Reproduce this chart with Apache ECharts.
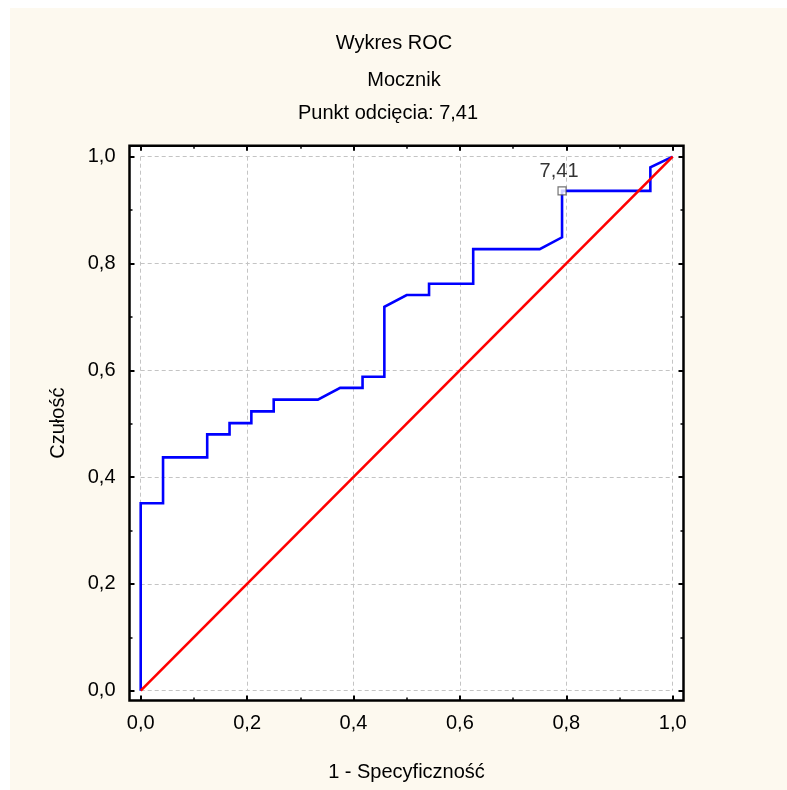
<!DOCTYPE html>
<html>
<head>
<meta charset="utf-8">
<script src="https://cdn.jsdelivr.net/npm/echarts@6/dist/echarts.min.js"></script>
<style>
  html, body { margin: 0; padding: 0; background: #ffffff; }
  #chart { width: 787px; height: 790px; }
</style>
</head>
<body>
<div id="chart"></div>
<script>
// ROC curve for "Mocznik" with the selected cut-off point
const chartTitle = 'Wykres ROC';
const variableName = 'Mocznik';
const cutoffLabel = '7,41';

// 1 - specificity (x) and sensitivity (y) along the stepped ROC curve
const fpr = [0, 0, 0.042, 0.042, 0.125, 0.125, 0.167, 0.167, 0.208, 0.208, 0.25, 0.25, 0.333, 0.375, 0.417, 0.417, 0.458, 0.458, 0.5, 0.542, 0.542, 0.625, 0.625, 0.75, 0.792, 0.792, 0.958, 0.958, 1];
const tpr = [0, 0.351, 0.351, 0.437, 0.437, 0.48, 0.48, 0.501, 0.501, 0.523, 0.523, 0.545, 0.545, 0.567, 0.567, 0.588, 0.588, 0.719, 0.741, 0.741, 0.762, 0.762, 0.827, 0.827, 0.849, 0.936, 0.936, 0.98, 1];

// cut-off point on the curve
const cutX = [0.792];
const cutY = [0.936];

// chance diagonal
const refX = [0, 1];
const refY = [0, 1];

// axis tick values (labelled) and the unlabelled ticks between them
const majorTicks = [0, 0.2, 0.4, 0.6, 0.8, 1.0];
const minorTicks = [0.1, 0.3, 0.5, 0.7, 0.9];

const FONT = 'Liberation Sans, Arial, sans-serif';
const FS = 20;
const fmt = v => v.toFixed(1).replace('.', ',');

const rocData = fpr.map((x, i) => [x, tpr[i]]);
const refData = refX.map((x, i) => [x, refY[i]]);
const cutData = cutX.map((x, i) => [x, cutY[i]]);

// plot area (values 0..1) and the framed box around it, in pixels
const plot = { left: 140.7, top: 156.7, width: 532, height: 534 };
const frame = { left: 129.5, top: 145.8, width: 554, height: 554.7 };
// value range covered by the frame, so that 0..1 lines up with the plot area
const fxMin = -(plot.left - frame.left) / plot.width;
const fxMax = 1 + (frame.left + frame.width - plot.left - plot.width) / plot.width;
const fyMin = -(frame.top + frame.height - plot.top - plot.height) / plot.height;
const fyMax = 1 + (plot.top - frame.top) / plot.height;

const labelStyle = { fontFamily: FONT, fontSize: FS, color: '#000' };
const gridLine = { show: true, lineStyle: { color: '#c4c4c4', width: 1, type: [4, 3] } };

// one frame axis: ticks pointing inward at the given values, sitting on the frame edge
function frameAxis(dim, position, values, len, width, withLabels, extra) {
  const ax = {
    type: 'value', gridIndex: 1, position: position,
    min: dim === 'x' ? fxMin : fyMin,
    max: dim === 'x' ? fxMax : fyMax,
    axisLine: { show: false, onZero: false },
    axisTick: { show: true, inside: true, length: len, customValues: values, lineStyle: { color: '#000', width: width } },
    splitLine: { show: false },
    axisLabel: withLabels
      ? Object.assign({ show: true, customValues: values, formatter: fmt }, labelStyle, extra.label)
      : { show: false }
  };
  if (extra && extra.name) Object.assign(ax, extra.name);
  return ax;
}

const chart = echarts.init(document.getElementById('chart'), null, { renderer: 'canvas' });
chart.setOption({
  backgroundColor: '#ffffff',
  animation: false,
  graphic: [
    { type: 'rect', left: 10, top: 8, shape: { width: 777, height: 782 }, style: { fill: '#fdf9ef' }, z: -10, silent: true },
    { type: 'text', x: 394, y: 43, style: { text: chartTitle, font: FS + 'px ' + FONT, fill: '#000', align: 'center', verticalAlign: 'middle' } },
    { type: 'text', x: 404, y: 80, style: { text: variableName, font: FS + 'px ' + FONT, fill: '#000', align: 'center', verticalAlign: 'middle' } },
    { type: 'text', x: 388, y: 113, style: { text: 'Punkt odcięcia: ' + cutoffLabel, font: FS + 'px ' + FONT, fill: '#000', align: 'center', verticalAlign: 'middle' } }
  ],
  grid: [
    Object.assign({ show: false }, plot),
    Object.assign({ show: true, backgroundColor: '#ffffff', borderColor: '#000', borderWidth: 2.5 }, frame)
  ],
  xAxis: [
    // plot area: dashed grid lines only
    { type: 'value', gridIndex: 0, min: 0, max: 1, interval: 0.2, axisLine: { show: false, onZero: false }, axisTick: { show: false }, axisLabel: { show: false }, splitLine: gridLine },
    frameAxis('x', 'bottom', majorTicks, 5, 2, true, {
      label: { margin: 13 },
      name: { name: '1 - Specyficzność', nameLocation: 'middle', nameGap: 62, nameTextStyle: labelStyle }
    }),
    frameAxis('x', 'bottom', minorTicks, 3, 1.5, false),
    frameAxis('x', 'top', majorTicks, 5, 2, false),
    frameAxis('x', 'top', minorTicks, 3, 1.5, false)
  ],
  yAxis: [
    { type: 'value', gridIndex: 0, min: 0, max: 1, interval: 0.2, axisLine: { show: false, onZero: false }, axisTick: { show: false }, axisLabel: { show: false }, splitLine: gridLine },
    frameAxis('y', 'left', majorTicks, 5, 2, true, {
      label: { margin: 14 },
      name: { name: 'Czułość', nameLocation: 'middle', nameGap: 61, nameTextStyle: labelStyle }
    }),
    frameAxis('y', 'left', minorTicks, 3, 1.5, false),
    frameAxis('y', 'right', majorTicks, 5, 2, false),
    frameAxis('y', 'right', minorTicks, 3, 1.5, false)
  ],
  series: [
    {
      type: 'line', xAxisIndex: 0, yAxisIndex: 0, data: rocData,
      showSymbol: false, symbol: 'none',
      lineStyle: { color: '#0000ff', width: 2.6, join: 'miter' }, z: 3
    },
    {
      type: 'line', xAxisIndex: 0, yAxisIndex: 0, data: refData,
      showSymbol: false, symbol: 'none',
      lineStyle: { color: '#ff0000', width: 2.6 }, z: 4
    },
    {
      type: 'scatter', xAxisIndex: 0, yAxisIndex: 0, data: cutData,
      symbol: 'rect', symbolSize: 8,
      itemStyle: { color: '#ffffff', borderColor: '#505050', borderWidth: 1.2 },
      label: { show: true, position: 'top', distance: 5, offset: [-3, 0], formatter: () => cutoffLabel, fontFamily: FONT, fontSize: FS, color: '#000' },
      z: 5
    }
  ]
});
</script>
</body>
</html>
